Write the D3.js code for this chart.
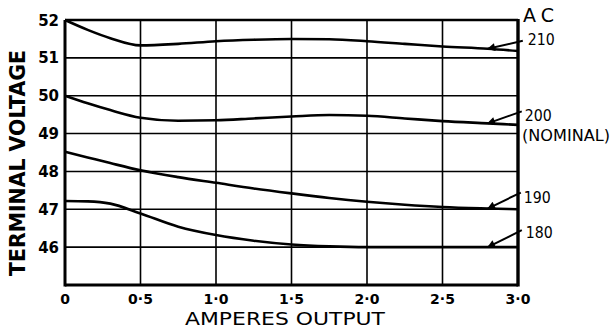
<!DOCTYPE html>
<html>
<head>
<meta charset="utf-8">
<script src="https://cdn.jsdelivr.net/npm/d3@7"></script>
<style>
  body { margin: 0; background: #fff; }
  svg { display: block; }
  text { fill: #000; }
</style>
</head>
<body>
<div id="chart"></div>
<script>
// amperes output sampled along the curves
var amps = [0, 0.15, 0.3, 0.5, 0.75, 1.0, 1.25, 1.5, 1.75, 2.0, 2.25, 2.5, 2.8, 3.0];

// terminal voltage for each AC input
var v210 = [52.0, 51.74, 51.52, 51.33, 51.37, 51.44, 51.48, 51.50, 51.49, 51.44, 51.37, 51.30, 51.24, 51.18];
var v200 = [50.0, 49.80, 49.62, 49.42, 49.34, 49.35, 49.40, 49.45, 49.49, 49.47, 49.40, 49.33, 49.27, 49.23];
var v190 = [48.52, 48.37, 48.22, 48.03, 47.85, 47.70, 47.55, 47.42, 47.30, 47.20, 47.12, 47.06, 47.02, 47.0];
var v180 = [47.22, 47.21, 47.15, 46.89, 46.54, 46.32, 46.17, 46.07, 46.02, 46.0, 46.0, 46.0, 46.0, 46.0];

var seriesNames = ["210", "200", "190", "180"];
var seriesValues = [v210, v200, v190, v180];

var xTicks = [0, 0.5, 1.0, 1.5, 2.0, 2.5, 3.0];
var xTickLabels = ["0", "0·5", "1·0", "1·5", "2·0", "2·5", "3·0"];
var yTicks = [46, 47, 48, 49, 50, 51, 52];

var arrowAt = 2.8; // where the label arrows touch the curves

var width = 611, height = 328;
var margin = {top: 20, right: 93, bottom: 43, left: 65};

var svg = d3.select("#chart").append("svg")
    .attr("width", width)
    .attr("height", height);

var x = d3.scaleLinear().domain([0, 3]).range([margin.left, width - margin.right]);
var y = d3.scaleLinear().domain([45, 52]).range([height - margin.bottom, margin.top]);

svg.append("defs").append("marker")
    .attr("id", "head")
    .attr("viewBox", "0 0 10 10")
    .attr("refX", 9).attr("refY", 5)
    .attr("markerWidth", 11).attr("markerHeight", 8)
    .attr("markerUnits", "userSpaceOnUse")
    .attr("orient", "auto")
  .append("path")
    .attr("d", "M0,0 L10,5 L0,10 Z")
    .attr("fill", "#000");

// grid
svg.append("g").selectAll("line")
  .data(yTicks.slice(0, -1))
  .enter().append("line")
    .attr("x1", x(0)).attr("x2", x(3))
    .attr("y1", function(d) { return y(d); })
    .attr("y2", function(d) { return y(d); })
    .attr("stroke", "#000").attr("stroke-width", 1.6);

svg.append("g").selectAll("line")
  .data(xTicks.slice(1, -1))
  .enter().append("line")
    .attr("x1", function(d) { return x(d); })
    .attr("x2", function(d) { return x(d); })
    .attr("y1", y(45)).attr("y2", y(52))
    .attr("stroke", "#000").attr("stroke-width", 1.6);

// frame
svg.append("line").attr("x1", x(0)).attr("x2", x(3)).attr("y1", y(52)).attr("y2", y(52))
    .attr("stroke", "#000").attr("stroke-width", 2.4);
svg.append("line").attr("x1", x(0)).attr("x2", x(3)).attr("y1", y(45)).attr("y2", y(45))
    .attr("stroke", "#000").attr("stroke-width", 3);
svg.append("line").attr("x1", x(0)).attr("x2", x(0)).attr("y1", y(52)).attr("y2", y(45) + 1.5)
    .attr("stroke", "#000").attr("stroke-width", 3);
svg.append("line").attr("x1", x(3)).attr("x2", x(3)).attr("y1", y(52) - 1).attr("y2", y(45) + 1.5)
    .attr("stroke", "#000").attr("stroke-width", 3.4);

// tick labels
svg.append("g").selectAll("text")
  .data(yTicks)
  .enter().append("text")
    .attr("x", x(0) - 6)
    .attr("y", function(d) { return y(d) + 5.5; })
    .attr("text-anchor", "end")
    .style("font", "bold 15px 'DejaVu Sans'")
    .text(function(d) { return d; });

svg.append("g").selectAll("text")
  .data(xTicks)
  .enter().append("text")
    .attr("x", function(d) { return x(d); })
    .attr("y", y(45) + 19)
    .attr("text-anchor", "middle")
    .style("font", "bold 14px 'DejaVu Sans'")
    .text(function(d, i) { return xTickLabels[i]; });

// axis titles
svg.append("text")
    .attr("transform", "translate(25," + 163 + ") rotate(-90)")
    .attr("text-anchor", "middle")
    .attr("textLength", 226)
    .attr("lengthAdjust", "spacingAndGlyphs")
    .style("font", "bold 22px 'DejaVu Sans'")
    .text("TERMINAL VOLTAGE");

svg.append("text")
    .attr("x", 285).attr("y", 325)
    .attr("text-anchor", "middle")
    .attr("textLength", 200)
    .attr("lengthAdjust", "spacingAndGlyphs")
    .style("font", "18px 'DejaVu Sans'")
    .text("AMPERES OUTPUT");

// curves
var line = d3.line()
    .x(function(d) { return x(d[0]); })
    .y(function(d) { return y(d[1]); })
    .curve(d3.curveMonotoneX);

svg.append("g").selectAll("path")
  .data(seriesValues)
  .enter().append("path")
    .attr("d", function(vals) { return line(amps.map(function(a, i) { return [a, vals[i]]; })); })
    .attr("fill", "none")
    .attr("stroke", "#000")
    .attr("stroke-width", 2.6);

// labels with arrows
var tailOffset = [[35, -8], [34, -12], [33, -16], [34, -17]];
var labelOffset = [[5, 4], [3, 10], [3, 10], [4, 8]];
var k = amps.indexOf(arrowAt);

seriesNames.forEach(function(name, i) {
  var tx = x(arrowAt), ty = y(seriesValues[i][k]);
  var sx = tx + tailOffset[i][0], sy = ty + tailOffset[i][1];
  svg.append("line")
      .attr("x1", sx).attr("y1", sy)
      .attr("x2", tx).attr("y2", ty)
      .attr("stroke", "#000").attr("stroke-width", 2)
      .attr("marker-end", "url(#head)");
  svg.append("text")
      .attr("x", sx + labelOffset[i][0])
      .attr("y", sy + labelOffset[i][1])
      .attr("textLength", 27)
      .attr("lengthAdjust", "spacingAndGlyphs")
      .style("font", "16px 'DejaVu Sans'")
      .text(name);
});

svg.append("text")
    .attr("x", 522).attr("y", 141)
    .attr("textLength", 88)
    .attr("lengthAdjust", "spacingAndGlyphs")
    .style("font", "15px 'DejaVu Sans'")
    .text("(NOMINAL)");

svg.append("text")
    .attr("x", 523).attr("y", 22)
    .style("font", "19px 'DejaVu Sans'")
    .attr("textLength", 31)
    .attr("lengthAdjust", "spacing")
    .text("AC");
</script>
</body>
</html>
